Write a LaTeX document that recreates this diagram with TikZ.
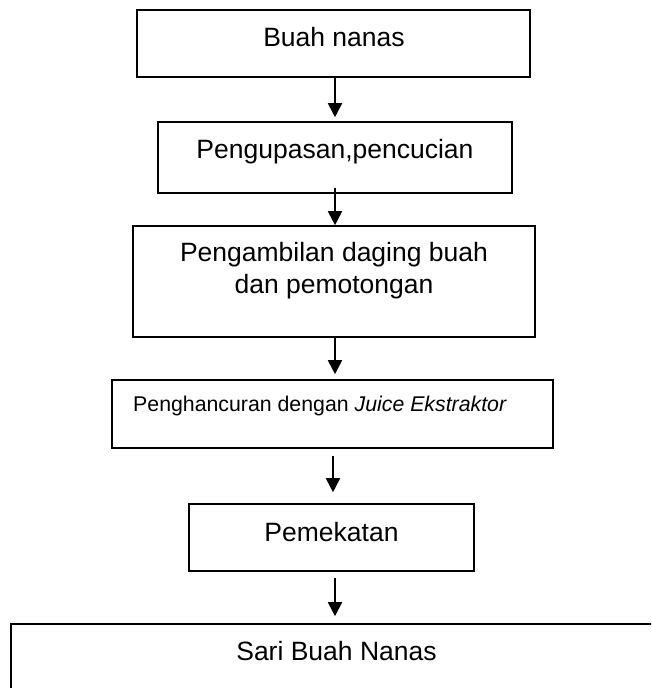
\documentclass[tikz,border=0pt]{standalone}
\usepackage{fontspec}
\setmainfont{Liberation Sans}
\usetikzlibrary{arrows.meta}
\tikzset{
  box/.style={draw=black, line width=1.6pt, rectangle, inner sep=0pt, fill=none},
  txt/.style={inner sep=0pt, font=\fontsize{26.5}{32}\selectfont, anchor=base},
  smalltxt/.style={inner sep=0pt, font=\fontsize{21.3}{25}\selectfont, anchor=base west},
  arr/.style={line width=1.8pt, -{Triangle[width=14pt,length=14pt]}}
}
\begin{document}
\begin{tikzpicture}[x=1pt,y=-1pt]
\useasboundingbox (0,0) rectangle (651,688);
\fill[white] (0,0) rectangle (651,688);
\clip (0,0) rectangle (651,688);
\coordinate (ax) at (335,0);
\coordinate (bx) at (333,0);
% boxes
\node[box, minimum width=393pt, minimum height=67pt] (b1) at (333.5,43.5) {};
\node[box, minimum width=354pt, minimum height=71pt] (b2) at (335,157.5) {};
\node[box, minimum width=402pt, minimum height=111pt] (b3) at (334,281.5) {};
\node[box, minimum width=441pt, minimum height=68pt] (b4) at (332.5,414) {};
\node[box, minimum width=285pt, minimum height=67pt] (b5) at (331.5,537.5) {};
\node[box, minimum width=689pt, minimum height=116pt] (b6) at (355.5,682) {};
% texts
\node[txt] (t1) at (334,46) {Buah nanas};
\node[txt] (t2) at (335,158) {Pengupasan,pencucian};
\node[txt] (t3a) at (334,261) {Pengambilan daging buah};
\node[txt] (t3b) at (334,293) {dan pemotongan};
\node[smalltxt] (t4) at (133,411) {Penghancuran dengan \textit{Juice Ekstraktor}};
\node[txt] (t5) at (331.5,541) {Pemekatan};
\node[txt] (t6) at (336.5,660) {Sari Buah Nanas};
% arrows
\draw[arr, shorten >=4pt] (b1.south -| ax) -- (b2.north -| ax);
\draw[arr, shorten <=-6pt] (b2.south -| ax) -- (b3.north -| ax);
\draw[arr, shorten >=5pt] (b3.south -| ax) -- (b4.north -| ax);
\draw[arr, shorten <=7pt, shorten >=11pt] (b4.south -| bx) -- (b5.north -| bx);
\draw[arr, shorten <=6pt, shorten >=7pt] (b5.south -| ax) -- (b6.north -| ax);
\end{tikzpicture}
\end{document}
